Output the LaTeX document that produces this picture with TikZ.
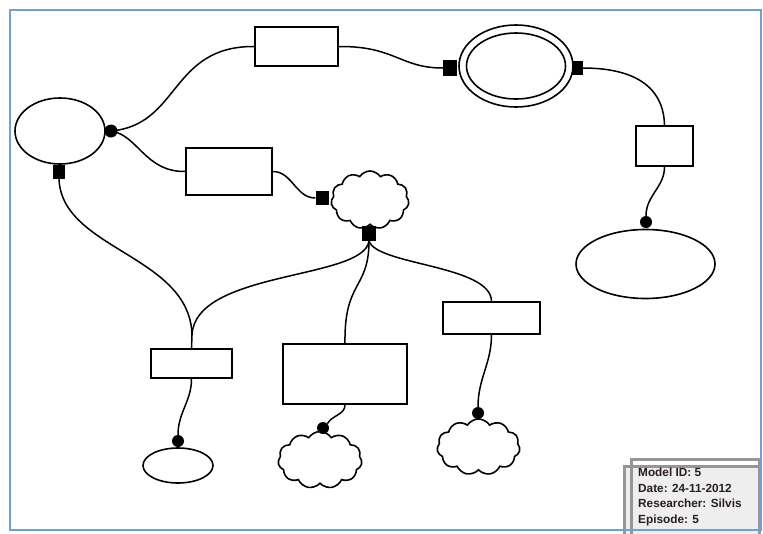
\documentclass[tikz,border=0pt]{standalone}
\usepackage{fontspec}
\setmainfont{Liberation Sans}
\usetikzlibrary{shapes.symbols,shapes.geometric}
\definecolor{frameblue}{RGB}{110,160,220}
\definecolor{infogray}{RGB}{150,150,150}
\definecolor{infofill}{RGB}{238,238,238}
\definecolor{infotext}{RGB}{40,30,30}
\begin{document}
\begin{tikzpicture}[x=1pt,y=-1pt,
 shp/.style={draw,line width=1.6pt,inner sep=0pt,fill=white},
 box/.style={shp,rectangle},
 ell/.style={shp,ellipse},
 cld/.style={shp,cloud,cloud puffs=11,cloud puff arc=115},
 port/.style={rectangle,fill=black,inner sep=0pt},
 dot/.style={circle,fill=black,inner sep=0pt,minimum size=12pt},
 wire/.style={line width=1.5pt}]
\useasboundingbox (0,0) rectangle (763,533);
\fill[white] (0,0) rectangle (763,533);
% shapes
\node[ell,minimum width=90pt,minimum height=66pt] (le) at (60,131) {};
\node[box,minimum width=83pt,minimum height=39pt] (rt) at (296.5,46.5) {};
\node[ell,minimum width=114pt,minimum height=82pt] (de) at (516,66) {};
\node[ell,minimum width=99pt,minimum height=66pt] (dei) at (516,66) {};
\node[box,minimum width=57pt,minimum height=40pt] (rr) at (664.5,146) {};
\node[ell,minimum width=139pt,minimum height=69pt] (re) at (645.5,264) {};
\node[box,minimum width=86pt,minimum height=47pt] (mr) at (229,171.5) {};
\node[cld,minimum width=78pt,minimum height=58pt] (c1) at (370,200) {};
\node[box,minimum width=81pt,minimum height=29pt] (bl) at (191.5,363.5) {};
\node[ell,minimum width=70pt,minimum height=35pt] (se) at (178,465.5) {};
\node[box,minimum width=124pt,minimum height=60pt] (mid) at (345,374) {};
\node[cld,minimum width=84pt,minimum height=57pt] (c2) at (320,460) {};
\node[box,minimum width=97pt,minimum height=32pt] (br) at (491.5,318) {};
\node[cld,minimum width=83pt,minimum height=56pt] (c3) at (478.5,447) {};
% ports and dots
\node[port,minimum width=12pt,minimum height=14pt] (sq4) at (59,172) {};
\node[port,minimum width=14pt,minimum height=16pt] (sq1) at (450,68) {};
\node[port,minimum width=11pt,minimum height=14pt] (sq2) at (577,68) {};
\node[port,minimum width=13pt,minimum height=14pt] (sq3) at (322,198) {};
\node[port,minimum width=14pt,minimum height=15pt] (sq5) at (369,233) {};
\node[dot,minimum size=13pt] (ld) at (111,131) {};
\node[dot] (dr) at (646,222) {};
\node[dot] (d1) at (178,441) {};
\node[dot] (d2) at (323,428) {};
\node[dot] (d3) at (478,413) {};
\coordinate (j) at (192,335);
% wires
\draw[wire] (ld.center) .. controls (180,125) and (170,46) .. (rt.west);
\draw[wire] (rt.east) .. controls (395,46) and (400,68) .. (sq1.west);
\draw[wire] (sq2.east) .. controls (645,68) and (664,95) .. (rr.north);
\draw[wire] (rr.south) to[out=-90,in=90] (dr.north);
\draw[wire] (ld.center) .. controls (138,135) and (145,172) .. (mr.west);
\draw[wire] (mr.east) to[out=0,in=180] (sq3.west);
\draw[wire] (sq4.south) .. controls (62,250) and (190,255) .. (j);
\draw[wire] (sq5.south) .. controls (365,280) and (195,270) .. (j);
\draw[wire] (j) -- (bl.north);
\draw[wire] (sq5.south) .. controls (369,290) and (344,280) .. (mid.north);
\draw[wire] (sq5.south) .. controls (375,265) and (491,265) .. (br.north);
\draw[wire] (bl.south) to[out=-90,in=90] (d1.north);
\draw[wire] (mid.south) to[out=-90,in=60] (d2.north east);
\draw[wire] (br.south) to[out=-90,in=90] (d3.north);
% info box
\draw[infogray,line width=3pt,fill=infofill] (624,466) rectangle (759,536);
\draw[infogray,line width=3pt] (631,459) rectangle (759,536);
\node[anchor=north west,align=left,inner sep=0pt,text=infotext,font=\bfseries\fontsize{11.8}{15.5}\selectfont] (info) at (638,468)
 {Model ID: 5\\Date: 24-11-2012\\Researcher: Silvis\\Episode: 5};
% frame
\draw[frameblue,line width=2pt] (10,10) rectangle (761,530);
\end{tikzpicture}
\end{document}
